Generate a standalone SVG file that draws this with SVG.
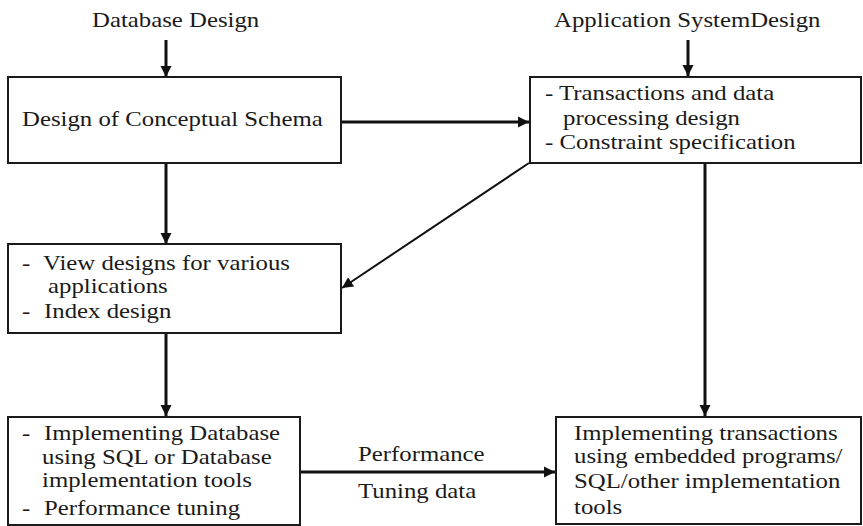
<svg xmlns="http://www.w3.org/2000/svg" width="863" height="526" viewBox="0 0 863 526" font-family="Liberation Serif, serif">
  <style>
    .box { fill: #ffffff; stroke: #1a1a1a; stroke-width: 2; }
    .txt { fill: #1a1a1a; }
    .conn { stroke: #111111; stroke-width: 3; fill: none; }
    .thin { stroke-width: 2; }
  </style>
  <defs>
    <marker id="arrow" markerUnits="userSpaceOnUse" markerWidth="12" markerHeight="12" refX="11" refY="6" orient="auto">
      <path d="M0,0.5 L11,6 L0,11.5 z" fill="#111111"/>
    </marker>
  </defs>

  <rect width="863" height="526" fill="#ffffff"/>

  <!-- Column headings (type is set slightly wide: scale 1.24 horizontally) -->
  <g id="label-database-design" font-family="Liberation Serif" font-size="20">
    <text class="txt" transform="translate(92,27) scale(1.24,1)">Database Design</text>
  </g>
  <g id="label-application-design" font-family="Liberation Serif" font-size="20">
    <text class="txt" transform="translate(554,27) scale(1.24,1)">Application SystemDesign</text>
  </g>

  <!-- Connectors -->
  <g id="connectors" font-family="Liberation Serif" font-size="20">
    <line class="conn" x1="166" y1="40" x2="166" y2="77" marker-end="url(#arrow)"/>
    <line class="conn" x1="688" y1="40" x2="688" y2="76" marker-end="url(#arrow)"/>
    <line class="conn" x1="341" y1="122" x2="529" y2="122" marker-end="url(#arrow)"/>
    <line class="conn thin" x1="529" y1="163" x2="342" y2="288" marker-end="url(#arrow)"/>
    <line class="conn" x1="166" y1="164" x2="166" y2="244" marker-end="url(#arrow)"/>
    <line class="conn" x1="166" y1="333" x2="166" y2="416" marker-end="url(#arrow)"/>
    <line class="conn" x1="705" y1="164" x2="705" y2="416" marker-end="url(#arrow)"/>
    <line class="conn" x1="301" y1="472" x2="555" y2="472" marker-end="url(#arrow)"/>
    <text class="txt" transform="translate(358,461) scale(1.24,1)">Performance</text>
    <text class="txt" transform="translate(358,498) scale(1.24,1)">Tuning data</text>
  </g>

  <!-- Conceptual schema -->
  <g id="node-conceptual-schema" font-family="Liberation Serif" font-size="20">
    <rect class="box" x="8" y="77" width="333" height="86"/>
    <text class="txt" transform="translate(22,126) scale(1.24,1)">Design of Conceptual Schema</text>
  </g>

  <!-- Transactions / constraints -->
  <g id="node-transactions-design" font-family="Liberation Serif" font-size="20">
    <rect class="box" x="530" y="77" width="331" height="86"/>
    <text class="txt" transform="translate(545,100) scale(1.24,1)">- Transactions and data</text>
    <text class="txt" transform="translate(563,125) scale(1.24,1)">processing design</text>
    <text class="txt" transform="translate(545,149) scale(1.24,1)">- Constraint specification</text>
  </g>

  <!-- View and index design -->
  <g id="node-view-index-design" font-family="Liberation Serif" font-size="20">
    <rect class="box" x="8" y="244" width="333" height="89"/>
    <text class="txt" transform="translate(22,270) scale(1.24,1)">-</text>
    <text class="txt" transform="translate(43,270) scale(1.24,1)">View designs for various</text>
    <text class="txt" transform="translate(48,293) scale(1.24,1)">applications</text>
    <text class="txt" transform="translate(22,318) scale(1.24,1)">-</text>
    <text class="txt" transform="translate(44,318) scale(1.24,1)">Index design</text>
  </g>

  <!-- Database implementation -->
  <g id="node-database-implementation" font-family="Liberation Serif" font-size="20">
    <rect class="box" x="8" y="417" width="292" height="108"/>
    <text class="txt" transform="translate(22,440) scale(1.24,1)">-</text>
    <text class="txt" transform="translate(44,440) scale(1.24,1)">Implementing Database</text>
    <text class="txt" transform="translate(42,464) scale(1.24,1)">using SQL or Database</text>
    <text class="txt" transform="translate(42,487) scale(1.24,1)">implementation tools</text>
    <text class="txt" transform="translate(22,515) scale(1.24,1)">-</text>
    <text class="txt" transform="translate(44,515) scale(1.24,1)">Performance tuning</text>
  </g>

  <!-- Transaction implementation -->
  <g id="node-transaction-implementation" font-family="Liberation Serif" font-size="20">
    <rect class="box" x="556" y="417" width="305" height="107"/>
    <text class="txt" transform="translate(574,440) scale(1.24,1)">Implementing transactions</text>
    <text class="txt" transform="translate(574,463) scale(1.24,1)">using embedded programs/</text>
    <text class="txt" transform="translate(574,488) scale(1.24,1)">SQL/other implementation</text>
    <text class="txt" transform="translate(574,514) scale(1.24,1)">tools</text>
  </g>
</svg>
